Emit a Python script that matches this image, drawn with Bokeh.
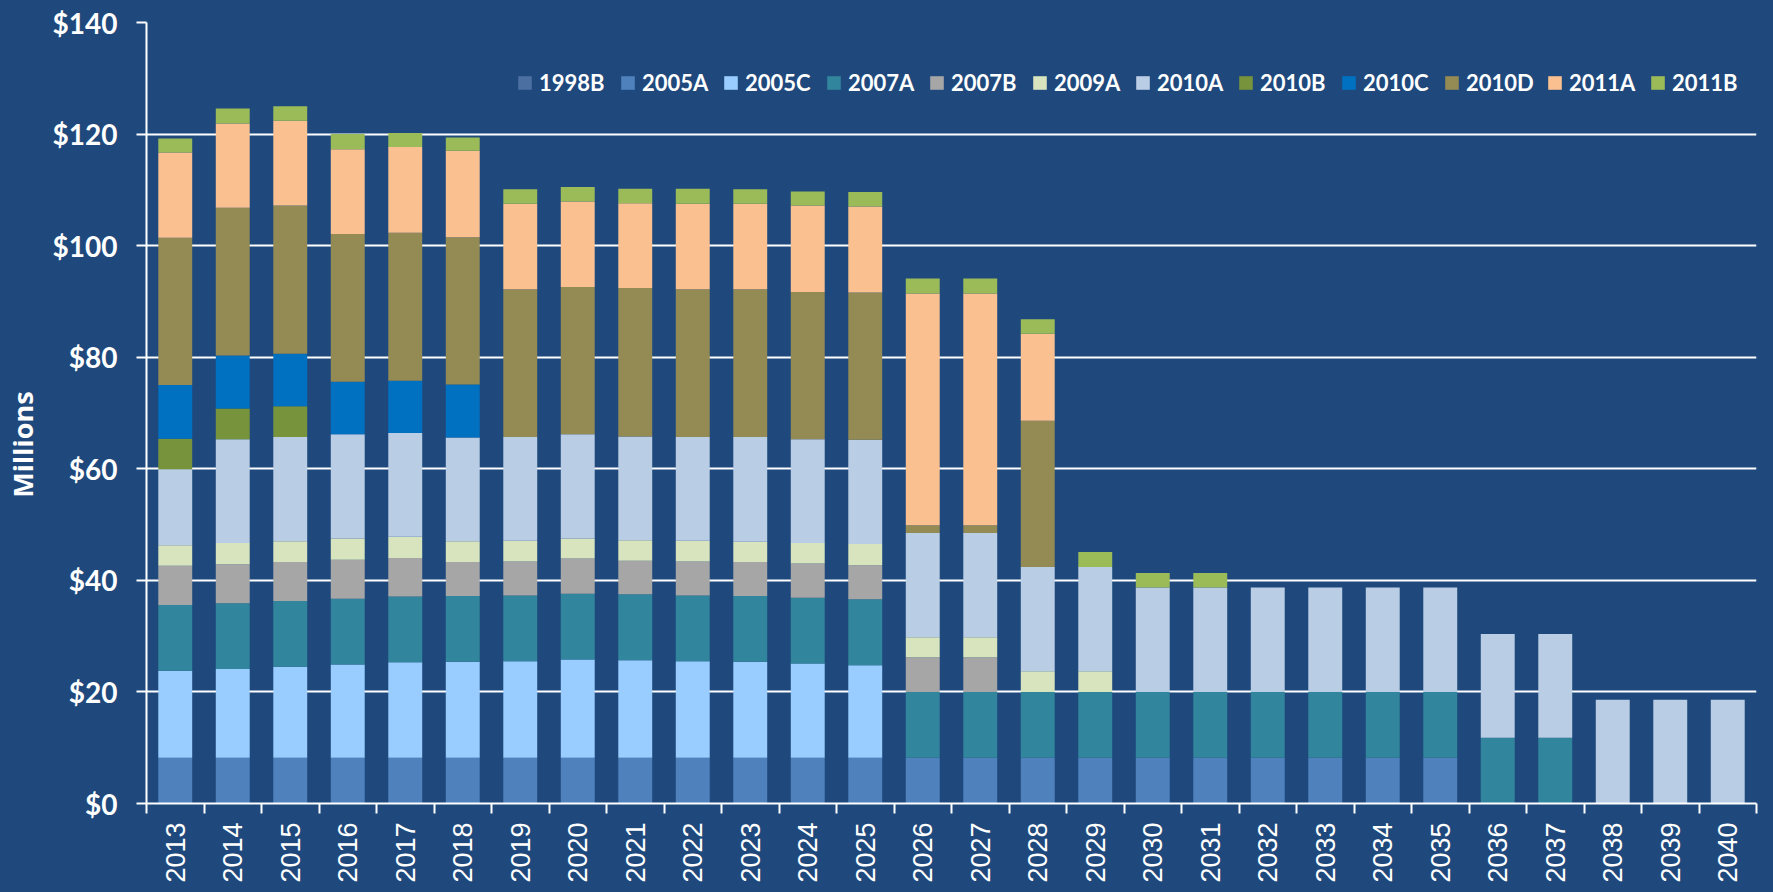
from bokeh.plotting import figure
from bokeh.models import ColumnDataSource, FixedTicker, Legend
from bokeh.embed import file_html
from bokeh.resources import INLINE

years = ["2013", "2014", "2015", "2016", "2017", "2018", "2019", "2020", "2021", "2022",
         "2023", "2024", "2025", "2026", "2027", "2028", "2029", "2030", "2031", "2032",
         "2033", "2034", "2035", "2036", "2037", "2038", "2039", "2040"]

series = ["1998B", "2005A", "2005C", "2007A", "2007B", "2009A",
          "2010A", "2010B", "2010C", "2010D", "2011A", "2011B"]

s1998B = [0, 0, 0, 0, 0, 0, 0, 0, 0, 0, 0, 0, 0, 0, 0, 0, 0, 0, 0, 0, 0, 0, 0, 0, 0, 0, 0, 0]
s2005A = [8.2, 8.2, 8.2, 8.2, 8.2, 8.2, 8.2, 8.2, 8.2, 8.2, 8.2, 8.2, 8.2, 8.2, 8.2, 8.2,
          8.2, 8.2, 8.2, 8.2, 8.2, 8.2, 8.2, 0, 0, 0, 0, 0]
s2005C = [15.6, 15.9, 16.3, 16.7, 17.1, 17.2, 17.3, 17.6, 17.5, 17.3, 17.2, 16.9, 16.6,
          0, 0, 0, 0, 0, 0, 0, 0, 0, 0, 0, 0, 0, 0, 0]
s2007A = [11.8, 11.8, 11.8, 11.8, 11.8, 11.8, 11.8, 11.8, 11.8, 11.8, 11.8, 11.8, 11.8, 11.8,
          11.8, 11.8, 11.8, 11.8, 11.8, 11.8, 11.8, 11.8, 11.8, 11.8, 11.8, 0, 0, 0]
s2007B = [7.0, 7.0, 7.0, 7.0, 6.9, 6.1, 6.1, 6.3, 6.0, 6.1, 6.1, 6.1, 6.1, 6.2, 6.2,
          0, 0, 0, 0, 0, 0, 0, 0, 0, 0, 0, 0, 0]
s2009A = [3.7, 3.8, 3.7, 3.8, 3.8, 3.7, 3.7, 3.6, 3.7, 3.7, 3.6, 3.7, 3.8, 3.6, 3.6, 3.7, 3.7,
          0, 0, 0, 0, 0, 0, 0, 0, 0, 0, 0]
s2010A = [13.6, 18.6, 18.7, 18.7, 18.6, 18.6, 18.6, 18.7, 18.6, 18.6, 18.8, 18.6, 18.7, 18.7,
          18.7, 18.7, 18.7, 18.7, 18.7, 18.7, 18.7, 18.7, 18.7, 18.6, 18.6, 18.6, 18.6, 18.6]
s2010B = [5.5, 5.5, 5.5, 0, 0, 0, 0, 0, 0, 0, 0, 0, 0, 0, 0, 0, 0, 0, 0, 0, 0, 0, 0, 0, 0, 0, 0, 0]
s2010C = [9.6, 9.5, 9.4, 9.4, 9.4, 9.5, 0, 0, 0, 0, 0, 0, 0, 0, 0, 0, 0, 0, 0, 0, 0, 0, 0, 0, 0, 0, 0, 0]
s2010D = [26.4, 26.5, 26.6, 26.5, 26.5, 26.4, 26.5, 26.4, 26.6, 26.5, 26.5, 26.4, 26.4, 1.4,
          1.4, 26.2, 0, 0, 0, 0, 0, 0, 0, 0, 0, 0, 0, 0]
s2011A = [15.3, 15.1, 15.2, 15.2, 15.4, 15.5, 15.3, 15.3, 15.2, 15.3, 15.3, 15.5, 15.4, 41.5,
          41.5, 15.6, 0, 0, 0, 0, 0, 0, 0, 0, 0, 0, 0, 0]
s2011B = [2.5, 2.7, 2.6, 2.7, 2.5, 2.4, 2.6, 2.6, 2.6, 2.7, 2.6, 2.5, 2.6, 2.7, 2.7, 2.6, 2.7,
          2.6, 2.6, 0, 0, 0, 0, 0, 0, 0, 0, 0]

y_ticks = [0, 20, 40, 60, 80, 100, 120, 140]
y_tick_labels = ["$0", "$20", "$40", "$60", "$80", "$100", "$120", "$140"]
y_title = "Millions"

colors = ["#4B6FA0", "#4F81BD", "#99CCFF", "#31859C", "#A6A6A6", "#D7E4BD",
          "#B9CDE5", "#77933C", "#0070C0", "#948A54", "#FAC090", "#9BBB59"]

BG = "#1F497D"

xpos = list(range(len(years)))
data = {"x": xpos, "1998B": s1998B, "2005A": s2005A, "2005C": s2005C, "2007A": s2007A,
        "2007B": s2007B, "2009A": s2009A, "2010A": s2010A, "2010B": s2010B,
        "2010C": s2010C, "2010D": s2010D, "2011A": s2011A, "2011B": s2011B}
source = ColumnDataSource(data)

p = figure(width=1773, height=892, output_backend="svg", toolbar_location=None,
           x_range=(-0.5, len(years) - 0.5), y_range=(0, 140),
           background_fill_color=BG, border_fill_color=BG,
           min_border_left=138, min_border_right=17, min_border_top=22, min_border_bottom=89)
p.outline_line_color = None

renderers = p.vbar_stack(series, x="x", width=0.59, source=source, color=colors,
                         line_color=None)

legend = Legend(items=[(name, [r]) for name, r in zip(series, renderers)],
                orientation="horizontal", location=(370, 707))
legend.background_fill_alpha = 0
legend.border_line_alpha = 0
legend.padding = 0
legend.margin = 0
legend.spacing = 8
legend.glyph_width = 17
legend.glyph_height = 17
legend.label_standoff = 6
legend.label_width = 72
legend.label_text_color = "white"
legend.label_text_font = "Lato"
legend.label_text_font_style = "bold"
legend.label_text_font_size = "22px"
p.add_layout(legend, "center")

# grid
p.xgrid.grid_line_color = None
p.ygrid.grid_line_color = "white"
p.ygrid.grid_line_width = 2
p.ygrid.ticker = FixedTicker(ticks=y_ticks)

# y axis
p.yaxis.ticker = FixedTicker(ticks=y_ticks)
p.yaxis.major_label_overrides = {t: l for t, l in zip(y_ticks, y_tick_labels)}
p.yaxis.axis_line_color = "white"
p.yaxis.axis_line_width = 2
p.yaxis.major_tick_line_color = "white"
p.yaxis.major_tick_line_width = 2
p.yaxis.major_tick_out = 10
p.yaxis.major_tick_in = 0
p.yaxis.minor_tick_line_color = None
p.yaxis.major_label_text_color = "white"
p.yaxis.major_label_text_font = "Lato"
p.yaxis.major_label_text_font_style = "bold"
p.yaxis.major_label_text_font_size = "28px"
p.yaxis.major_label_standoff = 19
# trailing no-break spaces shift the visible title below the frame centre, as in the reference
p.yaxis.axis_label = y_title + "\u00a0" * 9
p.yaxis.axis_label_text_color = "white"
p.yaxis.axis_label_text_font = "Open Sans"
p.yaxis.axis_label_text_font_style = "bold"
p.yaxis.axis_label_text_font_size = "27px"
p.yaxis.axis_label_standoff = 9

# x axis
p.xaxis.ticker = FixedTicker(ticks=xpos, minor_ticks=[i - 0.5 for i in range(len(years) + 1)])
p.xaxis.major_label_overrides = {i: y for i, y in zip(xpos, years)}
p.xaxis.major_label_orientation = 3.14159265 / 2
p.xaxis.axis_line_color = "white"
p.xaxis.axis_line_width = 2
p.xaxis.major_tick_line_color = None
p.xaxis.major_tick_out = 0
p.xaxis.major_tick_in = 0
p.xaxis.minor_tick_line_color = "white"
p.xaxis.minor_tick_line_width = 2
p.xaxis.minor_tick_out = 10
p.xaxis.minor_tick_in = 0
p.xaxis.major_label_text_color = "white"
p.xaxis.major_label_text_font = "Liberation Sans"
p.xaxis.major_label_text_font_size = "27px"
p.xaxis.major_label_standoff = 9

html = file_html(p, INLINE)
html = html.replace("<head>", "<head><style>html,body{margin:0;padding:0;background:%s;overflow:hidden;}</style>" % BG, 1)
open("out.html", "w").write(html)
